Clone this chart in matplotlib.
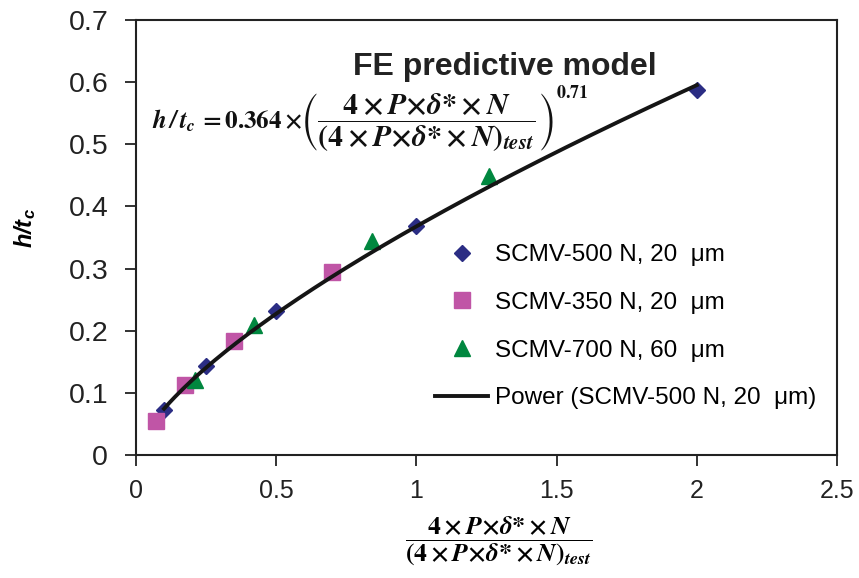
import numpy as np
import matplotlib
matplotlib.use('Agg')
import matplotlib.pyplot as plt
from matplotlib.ticker import FuncFormatter, MultipleLocator

plt.rcParams['font.family'] = ['Liberation Sans', 'DejaVu Sans']
plt.rcParams['mathtext.fontset'] = 'custom'
plt.rcParams['mathtext.rm'] = 'Liberation Sans'
plt.rcParams['mathtext.it'] = 'Liberation Sans:italic'
plt.rcParams['mathtext.bf'] = 'Liberation Sans:bold'
plt.rcParams['mathtext.bfit'] = 'Liberation Sans:italic:bold'

#%% data
x_500 = [0.10, 0.25, 0.50, 1.00, 2.00]
y_500 = [0.073, 0.143, 0.231, 0.368, 0.587]
x_350 = [0.07, 0.175, 0.35, 0.70]
y_350 = [0.054, 0.113, 0.183, 0.294]
x_700 = [0.21, 0.42, 0.84, 1.26]
y_700 = [0.121, 0.209, 0.345, 0.449]

labels = ['SCMV-500 N, 20  \u03bcm', 'SCMV-350 N, 20  \u03bcm',
          'SCMV-700 N, 60  \u03bcm', 'Power (SCMV-500 N, 20  \u03bcm)']

#%% power trendline fitted on the SCMV-500 series (like the spreadsheet trendline)
b, ln_a = np.polyfit(np.log(x_500), np.log(y_500), 1)
x_fit = np.linspace(min(x_500), max(x_500), 200)
y_fit = np.exp(ln_a) * x_fit**b

W, H = 859, 578
def fx(px):  # pixel -> figure fraction
    return px / W
def fy(py):
    return 1 - py / H

#%% plot
fig = plt.figure(figsize=(W / 100, H / 100), dpi=100)
ax = fig.add_axes([fx(136), fy(455), (837 - 136) / W, (455 - 20) / H])

ax.plot(x_500, y_500, 'D', color='#2B2D84', ms=8.5, label=labels[0], zorder=3)
ax.plot(x_350, y_350, 's', color='#C055A6', ms=11, label=labels[1], zorder=3)
ax.plot(x_700, y_700, '^', color='#00873F', ms=11.5, label=labels[2], zorder=3)
ax.plot(x_fit, y_fit, '-', color='#151515', lw=2.8, label=labels[3], zorder=4)

ax.set_xlim(0, 2.5)
ax.set_ylim(0, 0.7)
ax.xaxis.set_major_locator(MultipleLocator(0.5))
ax.yaxis.set_major_locator(MultipleLocator(0.1))
fmt = FuncFormatter(lambda v, p: '{:g}'.format(round(v, 2)))
ax.xaxis.set_major_formatter(fmt)
ax.yaxis.set_major_formatter(fmt)
ax.tick_params(direction='out', length=8, width=1.3, colors='#222222')
ax.tick_params(axis='x', pad=9.5, labelsize=18)
ax.tick_params(axis='y', pad=12, labelsize=20.5)
for s in ax.spines.values():
    s.set_linewidth(1.5)
    s.set_color('#222222')

ax.set_ylabel(r'$\mathbfit{h/t}_{\mathbfit{c}}$', fontsize=17)
ax.yaxis.set_label_coords((38 - 136) / 701, (455 - 228) / 435)

frac = r'\mathbf{4\times}\mathbfit{P}\mathbf{\times}\mathbfit{\delta}\mathbf{*\times}\mathbfit{N}'
den = r'\mathbf{(4\times}\mathbfit{P}\mathbf{\times}\mathbfit{\delta}\mathbf{*\times}\mathbfit{N}\mathbf{)}_{\mathbfit{test}}'
ax.set_xlabel(r'$\dfrac{' + frac + '}{' + den + '}$', fontsize=18.5,
              math_fontfamily='stix', va='top')
ax.xaxis.set_label_coords((499 - 136) / 701, (455 - 514) / 435)

fig.text(fx(505), fy(75), 'FE predictive model', ha='center', va='baseline',
         fontsize=23, fontweight='bold', color='#222222')

# equation, drawn in pieces so the fraction keeps its full size
fig.text(fx(152), fy(128), r'$\mathbfit{h\,/\,t_c}\,\mathbf{=0.364\times}$',
         ha='left', va='baseline', fontsize=18, math_fontfamily='stix', color='#111111')
fig.text(fx(300), fy(122), r'$\left(\dfrac{' + frac + '}{' + den + r'}\right)$',
         ha='left', va='center', fontsize=21.5, math_fontfamily='stix', color='#111111')
fig.text(fx(556), fy(85), r'$\mathbf{0.71}$', ha='left', va='top',
         fontsize=13, math_fontfamily='stix', color='#111111')

ax.legend(loc='upper left', bbox_to_anchor=((418 - 136) / 701, (455 - 227) / 435),
          frameon=False, fontsize=17.5, handlelength=2.2, handletextpad=0.25,
          labelspacing=1.06, borderpad=0.2)

fig.savefig('out.png', dpi=100)
